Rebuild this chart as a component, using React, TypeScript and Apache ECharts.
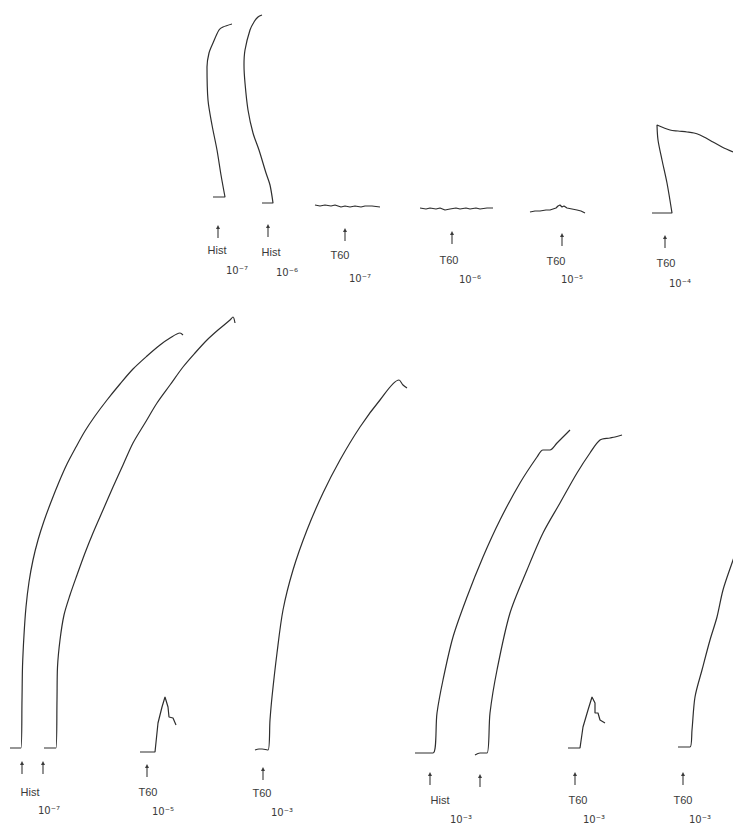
import React, { useEffect, useRef } from "react";
import * as echarts from "echarts";

// Kymograph traces on chart paper: x = paper position, y = pen position (downward).
const traceTop1 = [[213,197],[225,197],[221,175],[217,150],[212,125],[208,100],[207,67],[209,53],[213,43],[219,30],[223,27],[232,24]];
const traceTop2 = [[262,203],[273,203],[270,185],[266,173],[259,150],[253,133],[248,110],[245,83],[244,65],[245,50],[250,30],[254,22],[258,17],[262,15]];
const traceTop3 = [[315,205],[320,206],[325,205],[331,206],[335,205],[341,207],[345,206],[350,207],[355,206],[361,207],[365,206],[372,206],[380,207]];
const traceTop4 = [[420,208],[426,209],[430,208],[436,209],[440,208],[445,210],[450,209],[456,208],[460,209],[466,208],[470,209],[476,208],[480,209],[487,208],[493,208]];
const traceTop5 = [[530,212],[535,211],[540,211],[546,210],[550,210],[556,208],[558,206],[560,205],[562,207],[564,206],[567,208],[572,209],[577,210],[581,211],[585,213]];
const traceTop6 = [[652,213],[672,213],[667,183],[662,160],[658,140],[657,125],[670,130],[678,131],[687,132],[694,133],[700,135],[706,138],[713,142],[722,147],[733,152]];

const traceBot1 = [[10,748],[21,748],[22,700],[22.5,667],[24,635],[26,607],[29,582],[33,560],[38,540],[44,521],[51,502],[59,482],[67,464],[76,447],[85,431],[95,416],[107,400],[120,384],[133,369],[147,356],[160,345],[170,338],[180,333],[183,335]];
const traceBot2 = [[44,748],[56,748],[57,700],[57.5,667],[60,640],[64,615],[70,595],[77,575],[85,553],[93,533],[103,510],[113,487],[123,465],[133,443],[145,423],[157,403],[170,385],[183,367],[195,353],[207,340],[218,330],[230,320],[233,317],[235,323]];
const traceBot3 = [[140,752],[155,752],[158,723],[162,707],[165,697],[168,707],[169,717],[173,718],[176,725]];
const traceBot4 = [[255,750],[259,749],[262,749],[268,750],[270,720],[272,697],[277,653],[283,610],[293,570],[307,530],[323,493],[340,460],[360,427],[380,400],[399,380],[403,385],[407,388]];
const traceBot5 = [[415,753],[433,753],[437,713],[443,680],[453,637],[467,597],[483,557],[500,520],[520,483],[537,457],[543,450],[550,450],[557,443],[563,437],[570,430]];
const traceBot6 = [[475,755],[480,753],[487,753],[490,713],[497,670],[510,613],[527,570],[543,533],[560,503],[577,473],[590,453],[600,440],[610,438],[615,437],[622,435]];
const traceBot7 = [[568,748],[580,748],[583,727],[588,710],[592,697],[595,703],[595,713],[598,713],[600,720],[605,723]];
const traceBot8 = [[678,747],[690,747],[692,730],[695,697],[702,670],[710,640],[717,617],[723,590],[732,563],[740,540]];

// Long contractions are drawn smoothed; short / flat responses keep their jitter.
const smoothTraces = [traceTop1, traceTop2, traceTop6, traceBot1, traceBot2, traceBot4, traceBot5, traceBot6, traceBot8];
const roughTraces = [traceTop3, traceTop4, traceTop5, traceBot3, traceBot7];

// Drug additions (arrows) along the record.
const arrowMarks = [
  [218,232],[268,231],[345,235],[452,238],[562,240],[665,242],
  [22,768],[43,768],[147,771],[263,774],[430,779],[480,781],[575,779],[683,779],
];

// Agonist names under the arrows.
const agentNames = ["Hist", "Hist", "T60", "T60", "T60", "T60", "Hist", "T60", "T60", "Hist", "T60", "T60"];
const agentPos = [
  [217,250],[271,252],[340,255],[449,260],[556,261],[666,263],
  [30,792],[148,792],[262,793],[440,800],[578,800],[683,800],
];

// Molar concentrations.
const doses = ["10⁻⁷", "10⁻⁶", "10⁻⁷", "10⁻⁶", "10⁻⁵", "10⁻⁴", "10⁻⁷", "10⁻⁵", "10⁻³", "10⁻³", "10⁻³", "10⁻³"];
const dosePos = [
  [237,270],[287,272],[360,278],[470,279],[572,279],[680,283],
  [49,810],[163,811],[282,812],[461,819],[594,819],[700,819],
];

const W = 733;
const H = 827;
const INK = "#2e2e2e";
const TEXT_INK = "#3a3a3a";

export default function App() {
  const ref = useRef<HTMLDivElement>(null);

  useEffect(() => {
    if (!ref.current) return;
    const chart = echarts.init(ref.current, undefined, { renderer: "svg" });

    // Text annotations placed through the axes' scales.
    const textSeries = (pos: number[][], texts: string[], font: string) => ({
      type: "custom",
      silent: true,
      data: pos.map((p, i) => [p[0], p[1], i]),
      renderItem: (params: any, api: any) => {
        const pt = api.coord([api.value(0), api.value(1)]);
        return {
          type: "text",
          x: pt[0],
          y: pt[1],
          style: {
            text: texts[api.value(2)],
            fill: TEXT_INK,
            font,
            align: "center",
            verticalAlign: "middle",
          },
        };
      },
    });

    // Addition arrows: short stem with a small head.
    const arrowSeries = {
      type: "custom",
      silent: true,
      data: arrowMarks,
      renderItem: (params: any, api: any) => {
        const [x, y] = api.coord([api.value(0), api.value(1)]);
        return {
          type: "group",
          children: [
            {
              type: "line",
              shape: { x1: x, y1: y + 6, x2: x, y2: y - 4 },
              style: { stroke: TEXT_INK, lineWidth: 1.1 },
            },
            {
              type: "polygon",
              shape: { points: [[x - 2, y - 3], [x, y - 7], [x + 2, y - 3]] },
              style: { fill: TEXT_INK },
            },
          ],
        };
      },
    };

    const lineSeries = (t: number[][], smooth: number) => ({
      type: "line",
      data: t,
      showSymbol: false,
      symbol: "none",
      smooth,
      clip: true,
      lineStyle: { color: INK, width: 1.2 },
      silent: true,
    });

    const option: any = {
      animation: false,
      backgroundColor: "#ffffff",
      grid: { left: 0, top: 0, width: W, height: H, containLabel: false },
      xAxis: { type: "value", min: 0, max: W, show: false },
      yAxis: { type: "value", min: 0, max: H, inverse: true, show: false },
      series: [
        ...smoothTraces.map((t) => lineSeries(t, 0.3)),
        ...roughTraces.map((t) => lineSeries(t, 0)),
        arrowSeries,
        textSeries(agentPos, agentNames, "11px 'Liberation Sans'"),
        textSeries(dosePos, doses, "10px 'DejaVu Sans'"),
      ],
    };

    chart.setOption(option);
    return () => chart.dispose();
  }, []);

  return (
    <div
      ref={ref}
      style={{ position: "fixed", left: 0, top: 0, width: W, height: H, background: "#fff" }}
    />
  );
}
